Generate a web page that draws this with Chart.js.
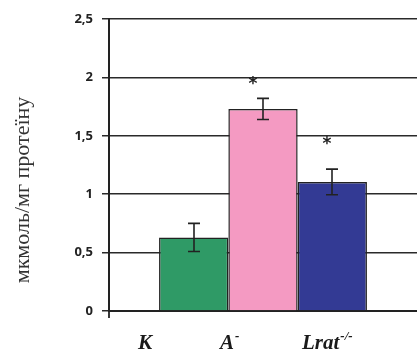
<!DOCTYPE html>
<html>
<head>
<meta charset="utf-8">
<script src="https://cdn.jsdelivr.net/npm/chart.js@4"></script>
<style>
  html, body { margin: 0; padding: 0; background: #fff; }
  #wrap { width: 417px; height: 351px; }
</style>
</head>
<body>
<div id="wrap"><canvas id="myChart" width="417" height="351"></canvas></div>
<script>
// values
let groups = ["К", "A", "Lrat"];
let groupSup = ["", "-", "-/-"];
let values = [0.63, 1.73, 1.105];
let errors = [0.12, 0.09, 0.11];
let starAt = [null, 1.98, 1.47];
let colors = ["#2f9a66", "#f49ac2", "#333a94"];
let yTicks = [0, 0.5, 1, 1.5, 2, 2.5];
let yTitle = "мкмоль/мг протеїну";

const ink = "#222";

// error bars + asterisks on top of the bars
const marksPlugin = {
  id: 'marks',
  afterDatasetsDraw(chart) {
    const ctx = chart.ctx;
    const y = chart.scales.y;
    ctx.save();
    ctx.strokeStyle = ink;
    ctx.lineWidth = 1.6;
    chart.data.datasets.forEach((ds, i) => {
      const bar = chart.getDatasetMeta(i).data[0];
      const cx = Math.round(bar.x);
      const top = y.getPixelForValue(values[i] + errors[i]);
      const bot = y.getPixelForValue(values[i] - errors[i]);
      ctx.beginPath();
      ctx.moveTo(cx, top); ctx.lineTo(cx, bot);
      ctx.moveTo(cx - 6, top); ctx.lineTo(cx + 6, top);
      ctx.moveTo(cx - 6, bot); ctx.lineTo(cx + 6, bot);
      ctx.stroke();
      if (starAt[i] != null) {
        ctx.fillStyle = ink;
        ctx.font = 'bold 17px "DejaVu Sans"';
        ctx.textAlign = 'center';
        ctx.textBaseline = 'middle';
        ctx.fillText('*', cx - (i === 1 ? 10 : 5), y.getPixelForValue(starAt[i]) + 5);
      }
    });
    ctx.restore();
  }
};

// group names under the axis, origin tick and the rotated axis title
const textPlugin = {
  id: 'texts',
  afterDraw(chart) {
    const ctx = chart.ctx;
    const area = chart.chartArea;
    const xs = [138, 220, 302];
    ctx.save();
    ctx.strokeStyle = ink;
    ctx.lineWidth = 1.8;
    ctx.beginPath();
    ctx.moveTo(area.left, area.bottom);
    ctx.lineTo(area.left, area.bottom + 7);
    ctx.stroke();

    ctx.fillStyle = "#1a1a1a";
    ctx.textBaseline = 'alphabetic';
    ctx.textAlign = 'left';
    groups.forEach((g, i) => {
      ctx.font = 'italic bold 21px "Liberation Serif"';
      ctx.fillText(g, xs[i], 349);
      const w = ctx.measureText(g).width;
      if (groupSup[i]) {
        ctx.font = 'italic bold 13px "Liberation Serif"';
        ctx.fillText(groupSup[i], xs[i] + w + 1, 340);
      }
    });
    ctx.translate(23, 190);
    ctx.rotate(-Math.PI / 2);
    ctx.textAlign = 'center';
    ctx.textBaseline = 'middle';
    ctx.fillStyle = "#333";
    ctx.font = '22px "Liberation Serif"';
    ctx.fillText(yTitle, 0, 0);
    ctx.restore();
  }
};

let objs = [];
for (let i = 0; i < values.length; i++) {
  objs.push({
    label: groups[i] + groupSup[i],
    data: [values[i]],
    backgroundColor: colors[i],
    borderColor: ink,
    borderWidth: 1.5,
    categoryPercentage: 0.675,
    barPercentage: 1,
  });
}

var ctx = document.querySelector('#myChart').getContext('2d');
let chart = new Chart(ctx, {
  type: 'bar',
  data: {
    labels: [''],
    datasets: objs,
  },
  options: {
    responsive: false,
    animation: false,
    layout: { padding: { top: 19, right: 0, left: 0, bottom: 0 } },
    plugins: {
      legend: { display: false },
      tooltip: { enabled: false },
    },
    scales: {
      x: {
        ticks: { display: false },
        grid: { display: false },
        border: { color: ink, width: 2 },
        afterFit: s => { s.height = 40; },
      },
      y: {
        min: 0,
        max: 2.5,
        afterBuildTicks: s => { s.ticks = yTicks.map(v => ({ value: v })); },
        ticks: {
          padding: 9,
          color: "#222",
          font: { family: '"Open Sans"', weight: 'bold', size: 13 },
          callback: v => String(v).replace('.', ','),
        },
        grid: { color: "#2a2a2a", lineWidth: 1.5, tickLength: 7 },
        border: { color: ink, width: 2 },
        afterFit: s => { s.width = 109; },
      },
    },
  },
  plugins: [marksPlugin, textPlugin],
});
</script>
</body>
</html>
